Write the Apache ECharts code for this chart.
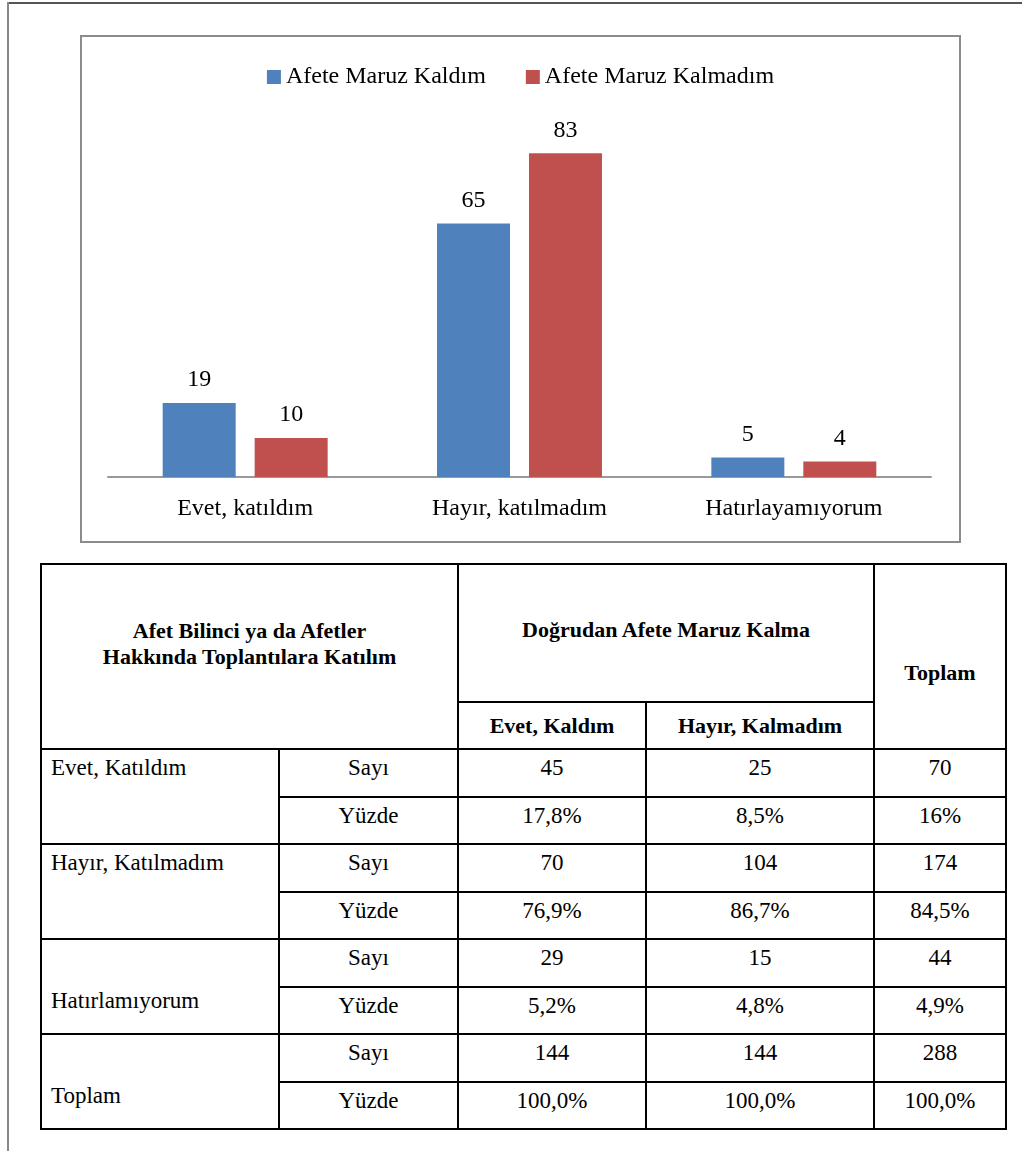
<!DOCTYPE html>
<html>
<head>
<meta charset="utf-8">
<script src="https://cdn.jsdelivr.net/npm/echarts@6/dist/echarts.min.js"></script>
<style>
    body{ margin:0; background:#fff; width:1022px; height:1151px; position:relative; overflow:hidden;
          font-family:"Liberation Serif","Noto Serif","Nimbus Roman","FreeSerif","Times New Roman",Tinos,"DejaVu Serif",serif; }
    .frameTop{ position:absolute; left:8px; top:2px; width:1014px; height:0; border-top:2px solid #555; }
    .frameLeft{ position:absolute; left:7px; top:2px; width:0; height:1149px; border-left:2px solid #888; }
    #chartBox{ position:absolute; left:80px; top:35px; width:877px; height:504px; border:2px solid #8c8c8c; background:#fff; }
    #chart{ width:100%; height:100%; }
    table{ position:absolute; left:40px; top:563px; border-collapse:collapse; table-layout:fixed; font-size:23px; color:#000; }
    td{ border:2px solid #000; padding:0; text-align:center; vertical-align:top; line-height:26px; }
    .hd{ font-weight:bold; font-size:22px; vertical-align:middle; }
    .lbl{ text-align:left; padding-left:9px; }
    .v td{ padding-top:5px; }
</style>
</head>
<body>
<div class="frameTop"></div>
<div class="frameLeft"></div>
<div id="chartBox"><div id="chart"></div></div>
<table id="tbl">
    <colgroup><col style="width:238px"><col style="width:179px"><col style="width:188px"><col style="width:228px"><col style="width:132px"></colgroup>
</table>

<script>
// grafik verileri
var categories = ['Evet, katıldım', 'Hayır, katılmadım', 'Hatırlayamıyorum'];
var seriesNames = ['Afete Maruz Kaldım', 'Afete Maruz Kalmadım'];
var maruzKaldim = [19, 65, 5];
var maruzKalmadim = [10, 83, 4];

// tablo verileri
var rowGroups = ['Evet, Katıldım', 'Hayır, Katılmadım', 'Hatırlamıyorum', 'Toplam'];
var rowKinds = ['Sayı', 'Yüzde'];
var sayiEvet = ['45', '70', '29', '144'];
var sayiHayir = ['25', '104', '15', '144'];
var sayiToplam = ['70', '174', '44', '288'];
var yuzdeEvet = ['17,8%', '76,9%', '5,2%', '100,0%'];
var yuzdeHayir = ['8,5%', '86,7%', '4,8%', '100,0%'];
var yuzdeToplam = ['16%', '84,5%', '4,9%', '100,0%'];

var serifFont = '"Liberation Serif", "Noto Serif", "Nimbus Roman", FreeSerif, "Times New Roman", Tinos, "DejaVu Serif", serif';
var chart = echarts.init(document.getElementById('chart'));
var txt = { fontFamily:serifFont, fontSize:24, color:'#000' };
var option = {
    animation:false,
    color:['#4F81BD', '#C0504D'],
    legend:{
        top:23,
        left:'center',
        itemWidth:14,
        itemHeight:14,
        itemGap:40,
        icon:'rect',
        textStyle:txt,
        data:seriesNames
    },
    grid:{ left:26, right:28, top:89, bottom:64 },
    xAxis:{
        type:'category',
        data:categories,
        axisLine:{ lineStyle:{ color:'#999', width:2 } },
        axisTick:{ show:false },
        axisLabel:Object.assign({ margin:20 }, txt)
    },
    yAxis:{
        type:'value',
        min:0,
        max:90,
        show:false,
        splitLine:{ show:false }
    },
    series:[
        {
            name:seriesNames[0], type:'bar', data:maruzKaldim, barWidth:73, barGap:'26%',
            label:Object.assign({ show:true, position:'top', distance:11 }, txt)
        },
        {
            name:seriesNames[1], type:'bar', data:maruzKalmadim, barWidth:73, barGap:'26%',
            label:Object.assign({ show:true, position:'top', distance:11 }, txt)
        }
    ]
};
chart.setOption(option);

// tablo
var tbl = document.getElementById('tbl');
var html = '';
html += '<tr style="height:138px">' +
    '<td class="hd" colspan="2" rowspan="2" style="padding-bottom:26px">Afet Bilinci ya da Afetler<br>Hakkında Toplantılara Katılım</td>' +
    '<td class="hd" colspan="2" style="padding-bottom:6px">Doğrudan Afete Maruz Kalma</td>' +
    '<td class="hd" rowspan="2" style="padding-top:32px">Toplam</td></tr>';
html += '<tr style="height:47px"><td class="hd">Evet, Kaldım</td><td class="hd">Hayır, Kalmadım</td></tr>';
for (var i = 0; i < rowGroups.length; i++) {
    var atTop = i < 2;
    var cellStyle = atTop ? 'vertical-align:top;padding-top:5px' : 'vertical-align:bottom;padding-bottom:19px;padding-top:0';
    html += '<tr class="v" style="height:47.5px">' +
        '<td class="lbl" rowspan="2" style="' + cellStyle + '">' + rowGroups[i] + '</td>' +
        '<td>' + rowKinds[0] + '</td><td>' + sayiEvet[i] + '</td><td>' + sayiHayir[i] + '</td><td>' + sayiToplam[i] + '</td></tr>';
    html += '<tr class="v" style="height:47.5px">' +
        '<td>' + rowKinds[1] + '</td><td>' + yuzdeEvet[i] + '</td><td>' + yuzdeHayir[i] + '</td><td>' + yuzdeToplam[i] + '</td></tr>';
}
tbl.insertAdjacentHTML('beforeend', html);
</script>
</body>
</html>
